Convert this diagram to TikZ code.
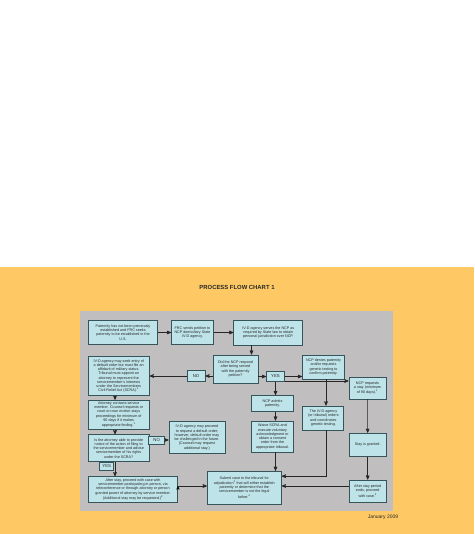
\documentclass[tikz,border=0pt]{standalone}
\usepackage{fontspec}
\setmainfont{Liberation Sans}
\usetikzlibrary{arrows}
\definecolor{chartorange}{HTML}{FEC965}
\definecolor{panelgrey}{HTML}{C0BEBE}
\definecolor{boxfill}{HTML}{BEE4E9}
\definecolor{boxline}{HTML}{35555A}
\tikzset{
->, % makes the connectors directed
>=stealth', % small bold arrow heads
box/.style={draw=boxline, fill=boxfill, line width=0.9pt, align=center, inner sep=1pt, font=\fontsize{3.7}{4.25}\selectfont, text=black!85}, % every step of the chart
tag/.style={box, font=\fontsize{4.3}{5}\selectfont}, % the YES / NO answers
link/.style={line width=0.6pt, draw=black!85}, % connectors
every edge/.append style={link},
}

\begin{document}
\begin{tikzpicture}[x=1pt, y=-1pt]
                \fill[white, -] (0,0) rectangle (474,534);
                \fill[chartorange, -] (0,267) rectangle (474,534);
                \fill[panelgrey, -] (80,311) rectangle (393,511);
                \node[font=\fontsize{5.9}{7}\selectfont\bfseries, text=black!85] (title) at (237,287.5) {PROCESS FLOW CHART 1};
                \node[font=\fontsize{5}{6}\selectfont, text=black!85] (date) at (383,517.5) {January 2009};

                \node[box, minimum width=69pt, minimum height=24pt] (paternity) at (123,332.5) {Paternity has not been previously\\established and FRC seeks\\paternity to be established in the\\U.S.};
                \node[box, minimum width=42pt, minimum height=24pt] (petition) at (192.5,332.5) {FRC sends petition to\\NCP domiciliary State\\IV-D agency.};
                \node[box, minimum width=69pt, minimum height=25pt] (serve) at (268.3,332.5) {IV-D agency serves the NCP as\\required by State law to obtain\\personal jurisdiction over NCP.};
                \node[box, minimum width=45pt, minimum height=28pt] (respond) at (235.5,369) {Did the NCP respond\\after being served\\with the paternity\\petition?};
                \node[tag, minimum width=18pt, minimum height=11pt] (no1) at (196,376) {NO};
                \node[tag, minimum width=18pt, minimum height=10pt] (yes1) at (275.5,376.5) {YES};
                \node[box, minimum width=42pt, minimum height=24pt] (denies) at (323.5,367) {NCP denies paternity\\and/or requests\\genetic testing to\\confirm paternity.};
                \node[box, minimum width=37pt, minimum height=22pt] (stayreq) at (367.5,388) {NCP requests\\a stay (minimum\\of 90 days).\textsuperscript{1}};
                \node[box, minimum width=42pt, minimum height=16pt] (admits) at (272.5,403.5) {NCP admits\\paternity.};
                \node[box, minimum width=42pt, minimum height=31pt] (waive) at (272.5,436.5) {Waive SCRA and\\execute voluntary\\acknowledgment or\\obtain a consent\\order from the\\appropriate tribunal.};
                \node[box, minimum width=41pt, minimum height=24pt] (testing) at (323.4,418) {The IV-D agency\\(or tribunal) orders\\and coordinates\\genetic testing.};
                \node[box, minimum width=37pt, minimum height=23pt] (granted) at (367.7,444.7) {Stay is granted.};
                \node[box, minimum width=37pt, minimum height=22pt] (afterperiod) at (367.7,491) {After stay period\\ends, proceed\\with case.\textsuperscript{2}};
                \node[box, minimum width=74pt, minimum height=33pt] (submit) at (244.3,487.7) {Submit case to the tribunal for\\adjudication\textsuperscript{3} that will either establish\\paternity or determine that the\\servicemember is not the legal\\father.\textsuperscript{4}};
                \node[box, minimum width=56pt, minimum height=32pt] (proceed) at (197,437.5) {IV-D agency may proceed\\to request a default order;\\however, default order may\\be challenged in the future.\\(Counsel may request\\additional stay.)};
                \node[box, minimum width=61pt, minimum height=39pt] (seek) at (118.7,376) {IV-D agency may seek entry of\\a default order but must file an\\affidavit of military status.\\Tribunal must appoint an\\attorney to represent the\\servicemember's interests\\under the Servicemembers\\Civil Relief Act (SCRA).\textsuperscript{1}};
                \node[box, minimum width=61pt, minimum height=29pt] (attorney) at (118.7,414.7) {Attorney contacts service\\member. Counsel requests or\\court on own motion stays\\proceedings for minimum of\\90 days if it makes\\appropriate finding.\textsuperscript{1}};
                \node[box, minimum width=61pt, minimum height=27pt] (notice) at (118.7,448.3) {Is the attorney able to provide\\notice of the action of filing to\\the servicemember and advise\\servicemember of his rights\\under the SCRA?};
                \node[tag, minimum width=16pt, minimum height=8pt] (no2) at (156.7,440) {NO};
                \node[tag, minimum width=14pt, minimum height=8pt] (yes2) at (106.7,466.5) {YES};
                \node[box, minimum width=89pt, minimum height=26pt] (afterstay) at (133,489.7) {After stay, proceed with case with\\servicemember participating in person, via\\teleconference or through attorney or person\\granted power of attorney by service member.\\(Additional stay may be requested.)\textsuperscript{2}};

                \draw
                    (paternity) edge (petition)
                    (petition) edge (serve)
                    ([xshift=16pt]respond.north |- serve.south) edge ([xshift=16pt]respond.north)
                    (respond.west |- no1) edge (no1)
                    (no1.west) edge (no1.west -| seek.east)
                    (respond.east |- yes1) edge (yes1)
                    (yes1.east) edge (yes1.east -| denies.west)
                    ([yshift=-4.5pt]yes1.east) edge ([yshift=-4.5pt]yes1.east -| stayreq.west)
                    (yes1.south) edge (yes1.south |- admits.north)
                    (admits.south -| yes1) edge (waive.north -| yes1)
                    (waive.south -| yes1) edge (submit.north -| yes1)
                    ([xshift=2.5pt]denies.south) edge ([xshift=2.5pt]denies.south |- testing.north)
                    ([xshift=2.5pt]testing.south) edge[to path={|- (\tikztotarget)}] ([yshift=11.5pt]submit.east)
                    (stayreq) edge (granted)
                    (granted) edge (afterperiod)
                    ([yshift=5pt]afterperiod.west) edge ([yshift=5pt]afterperiod.west -| submit.east)
                    ([xshift=-3.7pt]seek.south) edge ([xshift=-3.7pt]attorney.north)
                    ([xshift=-3.7pt]attorney.south) edge ([xshift=-3.7pt]notice.north)
                    (no2.east) edge (no2.east -| proceed.west)
                    ([xshift=-3.7pt]notice.south) edge ([xshift=-3.7pt]notice.south |- afterstay.north)
                    ([yshift=3.7pt]afterstay.east) edge ([yshift=3.7pt]afterstay.east -| submit.west)
                    ;
\end{tikzpicture}
\end{document}
